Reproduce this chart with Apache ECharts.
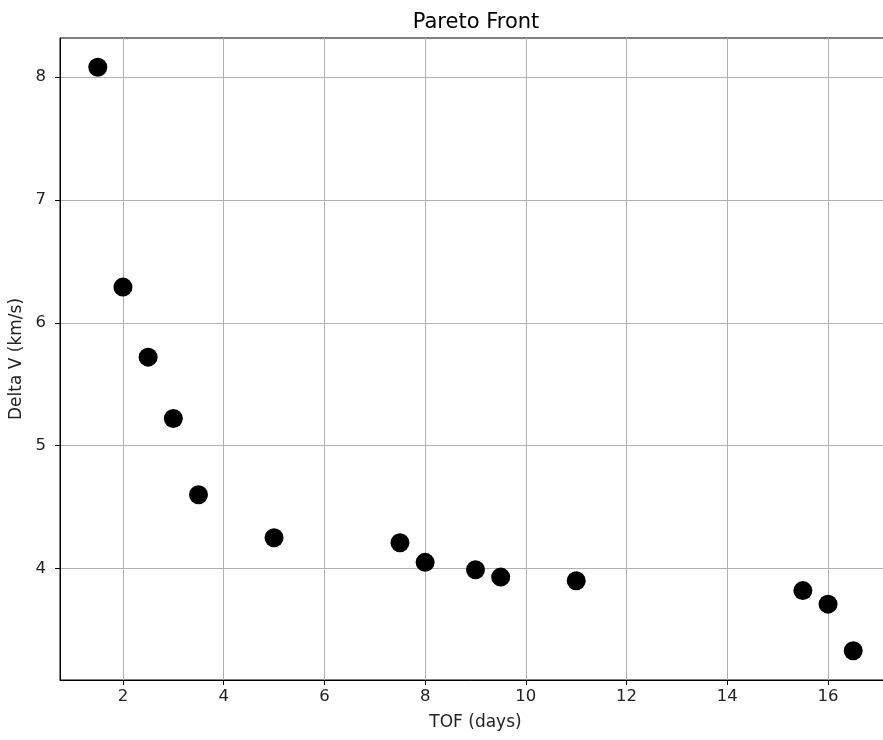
<html>
  <head>
    <meta http-equiv="Content-Type" content="text/html; charset=utf-8" />
    <script src="https://cdn.jsdelivr.net/npm/echarts@6/dist/echarts.min.js"></script>
  </head>
  <body style="margin:0">
    <div id="main" style="width: 883px;height:740px;"></div>
    <script type="text/javascript">
var tofDays = [1.5, 2, 2.5, 3, 3.5, 5, 7.5, 8, 9, 9.5, 11, 15.5, 16, 16.5];
var deltaV = [8.08, 6.29, 5.72, 5.22, 4.60, 4.25, 4.21, 4.05, 3.99, 3.93, 3.90, 3.82, 3.71, 3.33];
var xTicks = [2, 4, 6, 8, 10, 12, 14, 16];
var yTicks = [4, 5, 6, 7, 8];

var myChart = echarts.init(document.getElementById('main'));

var points = tofDays.map(function (t, i) { return [t, deltaV[i]]; });
var font = 'DejaVu Sans';

var option = {
  animation: false,
  title: {
    text: 'Pareto Front',
    left: 471, top: 7, textAlign: 'center',
    textStyle: { fontFamily: font, fontSize: 21, fontWeight: 'normal', color: '#000' }
  },
  // the reference picture is cut on the right, so the plot runs past the canvas
  grid: { left: 60, top: 38, width: 831, bottom: 60, outerBoundsMode: 'none',
          show: true, borderColor: '#000', borderWidth: 1 },
  xAxis: {
    type: 'value', min: 0.75, max: 17.25,
    name: 'TOF (days)', nameLocation: 'middle', nameGap: 34,
    nameTextStyle: { fontFamily: font, fontSize: 17, color: '#222' },
    axisLine: { lineStyle: { color: '#000' } },
    axisTick: { show: true, length: 5, customValues: xTicks, lineStyle: { color: '#000' } },
    axisLabel: { customValues: xTicks, fontFamily: font, fontSize: 16.5, color: '#222', margin: 8 },
    splitLine: { show: true, lineStyle: { color: '#b0b0b0', width: 1 } }
  },
  yAxis: {
    type: 'value', min: 3.0925, max: 8.3175,
    name: 'Delta V (km/s)', nameLocation: 'middle', nameGap: 28,
    nameTextStyle: { fontFamily: font, fontSize: 17, color: '#222' },
    axisLine: { show: true, lineStyle: { color: '#000' } },
    axisTick: { show: true, length: 5, customValues: yTicks, lineStyle: { color: '#000' } },
    axisLabel: { customValues: yTicks, fontFamily: font, fontSize: 16.5, color: '#222', margin: 14 },
    splitLine: { show: true, lineStyle: { color: '#b0b0b0', width: 1 } }
  },
  series: [{
    type: 'scatter',
    data: points,
    symbolSize: 19,
    itemStyle: { color: '#000', opacity: 1 }
  }]
};

myChart.setOption(option);
    </script>
  </body>
</html>
